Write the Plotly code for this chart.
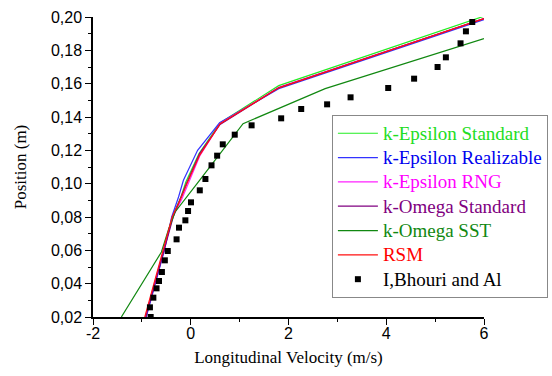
import plotly.graph_objects as go

# Simulated velocity profiles (velocity in m/s, position in m)
ke_std_u = [-0.92, -0.73, -0.55, -0.38, -0.20, -0.10, 0.17, 0.60, 1.80, 6.00]
ke_std_y = [0.020, 0.040, 0.060, 0.080, 0.092, 0.101, 0.118, 0.1365, 0.1588, 0.2005]

ke_real_u = [-0.91, -0.72, -0.54, -0.39, -0.25, -0.15, 0.14, 0.59, 1.80, 6.00]
ke_real_y = [0.020, 0.040, 0.060, 0.080, 0.092, 0.102, 0.120, 0.1365, 0.1570, 0.1985]

ke_rng_u = [-0.93, -0.74, -0.55, -0.37, -0.18, -0.07, 0.19, 0.60, 1.80, 6.00]
ke_rng_y = [0.020, 0.040, 0.060, 0.080, 0.091, 0.099, 0.117, 0.1360, 0.1578, 0.1990]

kw_std_u = [-0.92, -0.73, -0.54, -0.36, -0.20, -0.09, 0.18, 0.60, 1.80, 6.00]
kw_std_y = [0.020, 0.040, 0.060, 0.080, 0.092, 0.100, 0.118, 0.1355, 0.1575, 0.1990]

kw_sst_u = [-1.42, -1.00, -0.60, -0.45, -0.32, 0.18, 1.07, 2.75, 6.00]
kw_sst_y = [0.020, 0.040, 0.059, 0.073, 0.083, 0.102, 0.136, 0.1570, 0.1870]

rsm_u = [-0.94, -0.75, -0.56, -0.38, -0.19, -0.08, 0.18, 0.60, 1.80, 6.00]
rsm_y = [0.020, 0.040, 0.060, 0.080, 0.092, 0.100, 0.117, 0.1360, 0.1575, 0.1990]

# Experimental data (I. Bhouri et al.)
exp_u = [-0.82, -0.835, -0.765, -0.70, -0.65, -0.59, -0.53, -0.47, -0.29, -0.24,
         -0.11, -0.055, 0.005, 0.185, 0.30, 0.425, 0.54, 0.655, 0.90, 1.245,
         1.85, 2.26, 2.79, 3.27, 4.04, 4.57, 5.05, 5.22, 5.52, 5.63, 5.76]
exp_y = [0.020, 0.0258, 0.0316, 0.0372, 0.0416, 0.047, 0.054, 0.0596, 0.0666, 0.0736,
         0.078, 0.0836, 0.0888, 0.096, 0.1028, 0.111, 0.1168, 0.1236, 0.1294, 0.135,
         0.1392, 0.1448, 0.1476, 0.1518, 0.1574, 0.163, 0.170, 0.1758, 0.1842, 0.1914, 0.197]

x_ticks = [-2, 0, 2, 4, 6]
x_tick_text = ["-2", "0", "2", "4", "6"]

SERIF = "Times New Roman"
SANS = "Arial"

series = [
    ("k-Epsilon Standard", ke_std_u, ke_std_y, "#22ee22", "#22dd22"),
    ("k-Epsilon Realizable", ke_real_u, ke_real_y, "#3333ff", "#0000ee"),
    ("k-Epsilon RNG", ke_rng_u, ke_rng_y, "#ff22ff", "#ff00ff"),
    ("k-Omega Standard", kw_std_u, kw_std_y, "#800080", "#800080"),
    ("k-Omega SST", kw_sst_u, kw_sst_y, "#118811", "#118811"),
    ("RSM", rsm_u, rsm_y, "#ff1111", "#ff0000"),
]

# legend rows are spaced by the base legend font; the entry text itself is larger
ENTRY_STYLE = "font-size:19px"

fig = go.Figure()
for name, u, y, lc, tc in series:
    fig.add_trace(go.Scatter(
        x=u, y=y, mode="lines",
        line=dict(color=lc, width=1.2),
        name=f"<span style='color:{tc};{ENTRY_STYLE}'>{name}</span>",
    ))

fig.add_trace(go.Scatter(
    x=exp_u, y=exp_y, mode="markers",
    marker=dict(symbol="square", size=6, color="black"),
    name=f"<span style='{ENTRY_STYLE}'>I,Bhouri and Al</span>",
))

axis_common = dict(
    showline=True, linecolor="black", linewidth=1.5, mirror=False,
    showgrid=False, zeroline=False,
    ticks="outside", ticklen=6, tickwidth=1.3, tickcolor="black",
    tickfont=dict(family=SANS, size=16, color="black"),
)

fig.update_layout(
    width=552, height=376,
    margin=dict(l=93, r=68, t=17, b=59, autoexpand=False),
    paper_bgcolor="white", plot_bgcolor="white",
    separators=", ",
    xaxis=dict(
        range=[-2, 6], tickvals=x_ticks, ticktext=x_tick_text,
        minor=dict(dtick=1, ticks="outside", ticklen=3, tickcolor="black", tickwidth=1.2),
        ticklabelstandoff=-5,
        title=dict(text="Longitudinal Velocity (m/s)", standoff=10,
                   font=dict(family=SERIF, size=17, color="black")),
        **axis_common,
    ),
    yaxis=dict(
        range=[0.02, 0.20], dtick=0.02, tick0=0.02, tickformat=".2f",
        minor=dict(dtick=0.01, ticks="outside", ticklen=3, tickcolor="black", tickwidth=1.2),
        title=dict(text="Position (m)", standoff=20,
                   font=dict(family=SERIF, size=17, color="black")),
        **axis_common,
    ),
    legend=dict(
        x=0.611, y=0.673, xanchor="left", yanchor="top",
        bgcolor="white", bordercolor="#888888", borderwidth=1,
        itemwidth=40,
        font=dict(family=SERIF, size=16.4, color="black"),
    ),
    showlegend=True,
)

fig.write_html("out.html")
